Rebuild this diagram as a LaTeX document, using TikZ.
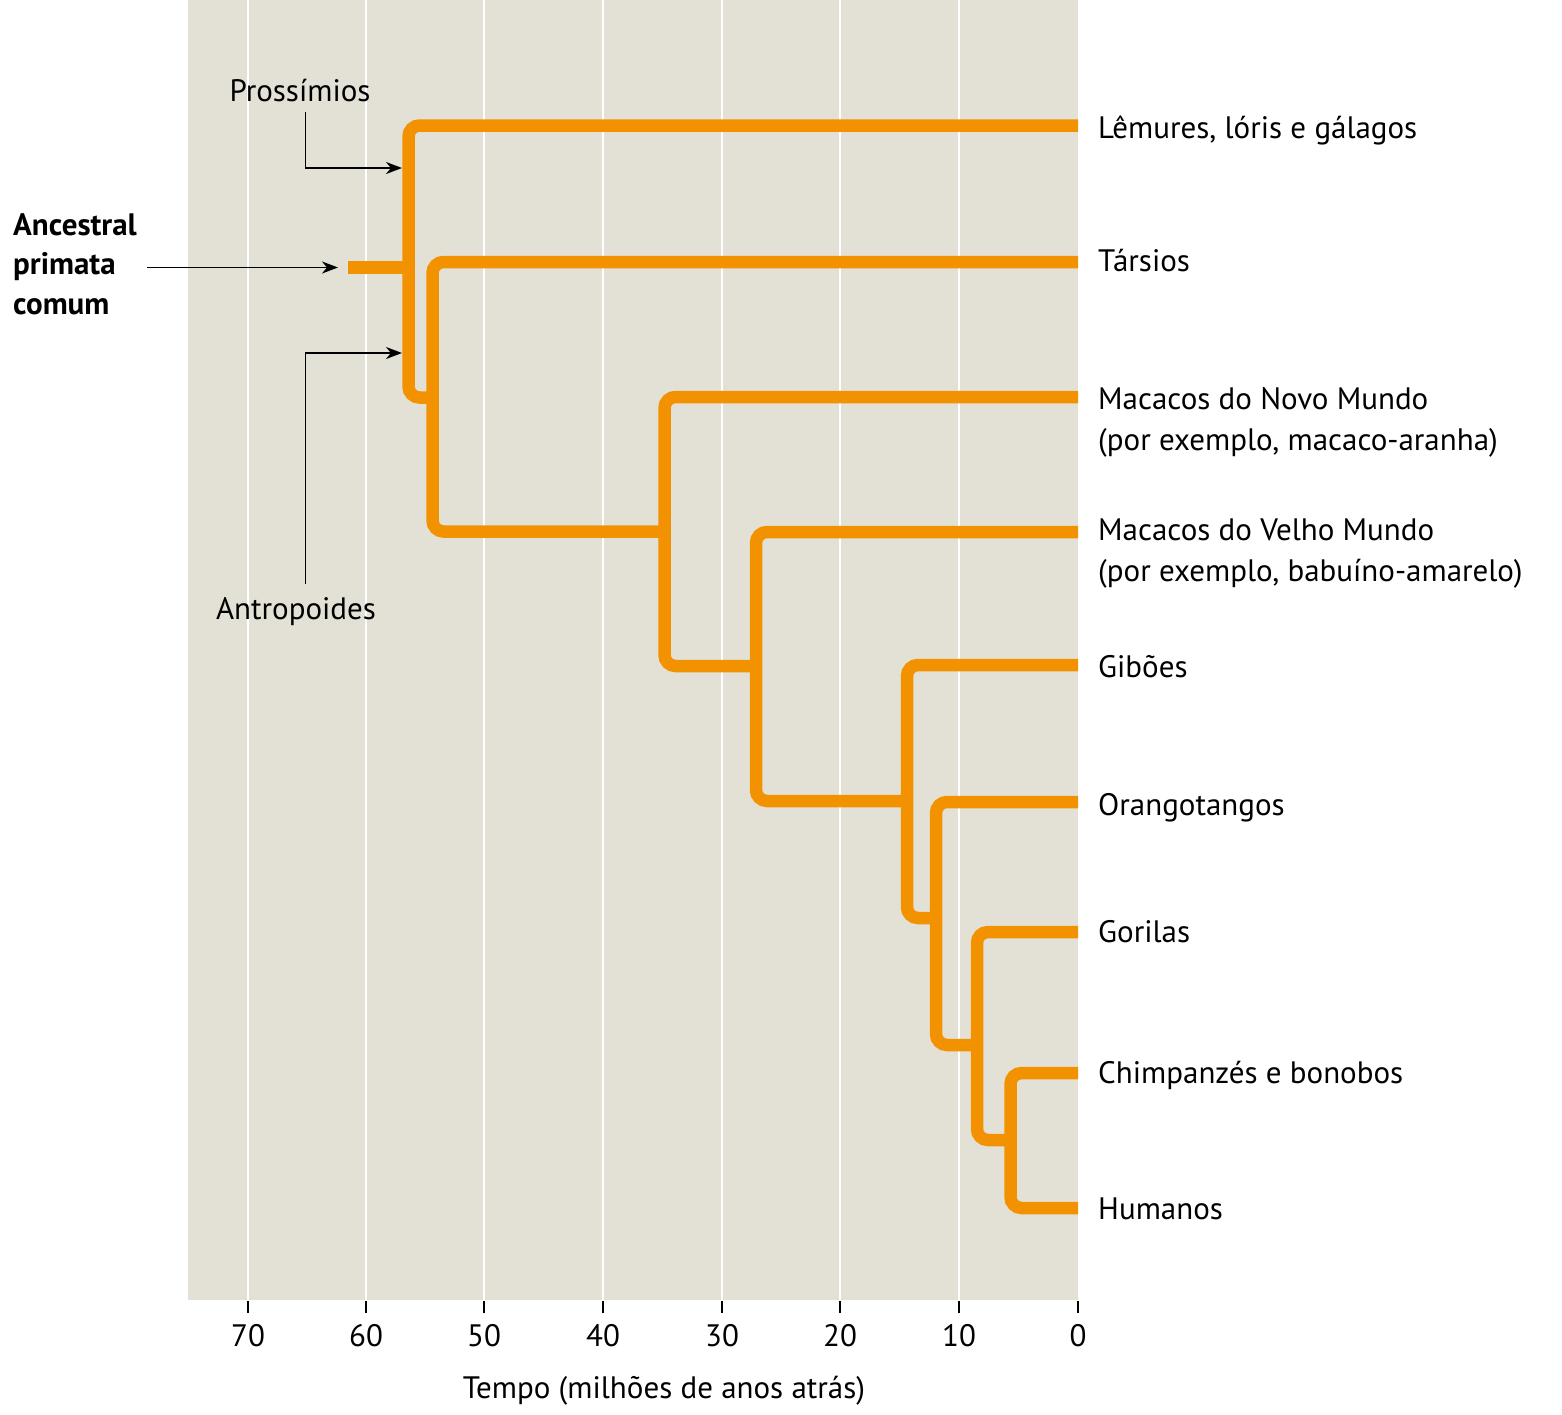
\documentclass[tikz,border=0pt]{standalone}
\usepackage{fontspec}
\setmainfont{PT Sans}
\usetikzlibrary{arrows.meta}
\definecolor{bgbeige}{HTML}{E3E1D5}
\definecolor{treeorange}{HTML}{F39200}
\begin{document}
\begin{tikzpicture}[x=1pt,y=-1pt,
  tree/.style={draw=treeorange, line width=12.5pt, rounded corners=11pt},
  gridline/.style={draw=white, line width=2pt},
  tickline/.style={draw=black, line width=1.5pt},
  pointer/.style={draw=black, line width=1.6pt, -{Stealth[length=16pt,width=12pt,inset=5pt]}},
  lbl/.style={inner sep=0pt, anchor=base west, font=\fontsize{31}{40.7}\selectfont, align=left},
  num/.style={inner sep=0pt, anchor=base, font=\fontsize{31}{40.7}\selectfont}]
\useasboundingbox (0,0) rectangle (1562,1414);
% background
\fill[bgbeige] (188,0) rectangle (1078,1300);
% grid
\foreach \xx in {248,366,484,603,722,840,959}
  \draw[gridline] (\xx,0) -- (\xx,1300);
% ticks and numbers
\foreach \xx/\vv in {248/70,366/60,484/50,603/40,722/30,840/20,959/10,1078/0}{
  \draw[tickline] (\xx,1301) -- (\xx,1313);
  \node[num] (n\vv) at (\xx,1346) {\vv};
}
\node[num] (axtitle) at (664,1398) {Tempo (milhões de anos atrás)};
% tree
\draw[tree] (1078,125.5) -- (408.5,125.5) -- (408.5,397.5) -- (432.5,397.5);
\draw[tree] (1078,262) -- (432.5,262) -- (432.5,531.5) -- (664.5,531.5);
\draw[tree] (1078,397) -- (664.5,397) -- (664.5,666) -- (756,666);
\draw[tree] (1078,532) -- (756,532) -- (756,801) -- (907,801);
\draw[tree] (1078,665) -- (907,665) -- (907,918) -- (936,918);
\draw[tree] (1078,802) -- (936,802) -- (936,1045) -- (977,1045);
\draw[tree] (1078,932) -- (977,932) -- (977,1140) -- (1010.5,1140);
\draw[tree] (1078,1073) -- (1010.5,1073) -- (1010.5,1208) -- (1078,1208);
\draw[tree] (348,267.5) -- (408.5,267.5);
% taxon labels
\node[lbl] (lem) at (1098,138) {Lêmures, lóris e gálagos};
\node[lbl] (tar) at (1098,271) {Társios};
\node[lbl] (nw1) at (1098,409) {Macacos do Novo Mundo};
\node[lbl] (nw2) at (1098,450) {(por exemplo, macaco-aranha)};
\node[lbl] (ow1) at (1098,540) {Macacos do Velho Mundo};
\node[lbl] (ow2) at (1098,581) {(por exemplo, babuíno-amarelo)};
\node[lbl] (gib) at (1098,677) {Gibões};
\node[lbl] (ora) at (1098,815) {Orangotangos};
\node[lbl] (gor) at (1098,942) {Gorilas};
\node[lbl] (chi) at (1098,1083) {Chimpanzés e bonobos};
\node[lbl] (hum) at (1098,1219) {Humanos};
% left labels
\node[lbl, font=\fontsize{31}{40.7}\selectfont\bfseries] (anc1) at (13,235) {Ancestral};
\node[lbl, font=\fontsize{31}{40.7}\selectfont\bfseries] (anc2) at (13,274) {primata};
\node[lbl, font=\fontsize{31}{40.7}\selectfont\bfseries] (anc3) at (13,314) {comum};
\node[num] (pro) at (300,101) {Prossímios};
\node[num] (ant) at (296,619) {Antropoides};
% pointers
\coordinate (ancTip) at (338,267.5);
\coordinate (proTip) at (402,168);
\coordinate (antTip) at (402,353);
\coordinate (proTop) at (305.5,112);
\coordinate (antBot) at (305.5,584);
\draw[pointer] (147,267.5) -- (ancTip);
\draw[pointer] (proTop) |- (proTip);
\draw[pointer] (antBot) |- (antTip);
\end{tikzpicture}
\end{document}
